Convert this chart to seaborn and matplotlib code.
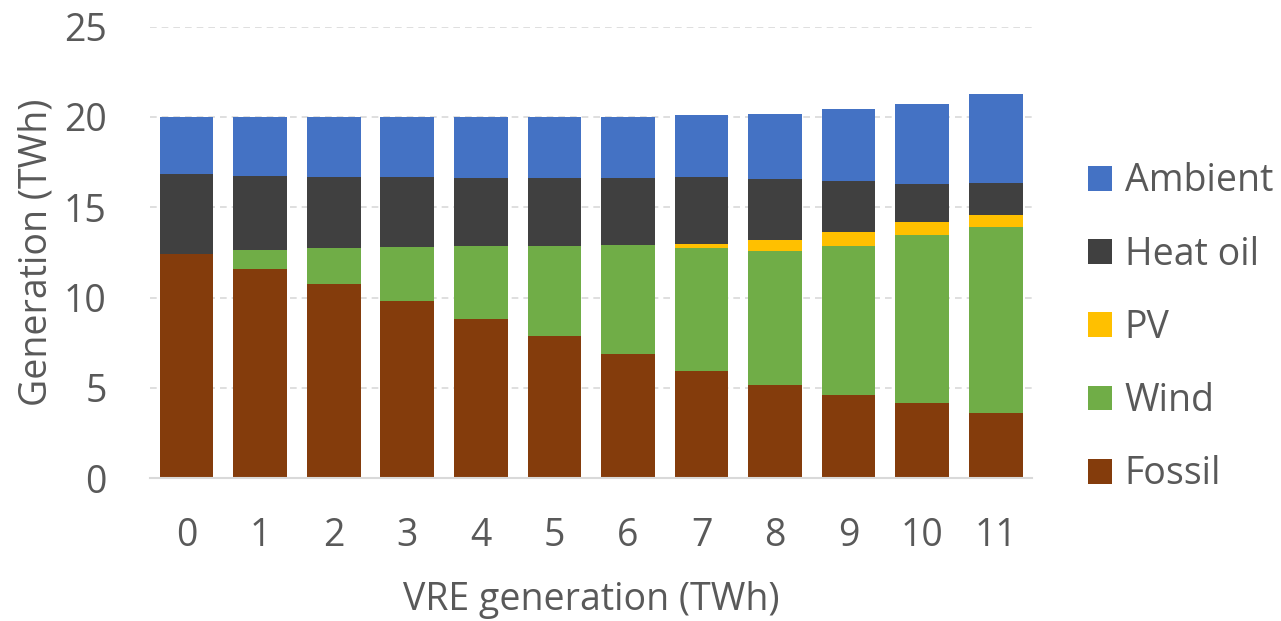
import matplotlib
matplotlib.use("Agg")
import matplotlib.pyplot as plt
from matplotlib.patches import Patch
import numpy as np
import pandas as pd
import seaborn as sns

# VRE generation levels (TWh) on the x axis
vre = ["0", "1", "2", "3", "4", "5", "6", "7", "8", "9", "10", "11"]

# Generation by source (TWh), stacked bottom to top
fossil = [12.44, 11.61, 10.75, 9.81, 8.83, 7.87, 6.89, 5.95, 5.18, 4.63, 4.18, 3.59]
wind = [0.00, 1.02, 2.01, 3.00, 4.02, 5.01, 6.01, 6.77, 7.41, 8.24, 9.29, 10.31]
pv = [0.00, 0.00, 0.00, 0.00, 0.00, 0.00, 0.00, 0.24, 0.59, 0.75, 0.71, 0.70]
heat_oil = [4.43, 4.11, 3.92, 3.85, 3.78, 3.76, 3.74, 3.72, 3.39, 2.82, 2.13, 1.77]
ambient = [3.13, 3.26, 3.32, 3.34, 3.37, 3.36, 3.36, 3.41, 3.61, 3.98, 4.43, 4.89]

series = ["Fossil", "Wind", "PV", "Heat oil", "Ambient"]
values = [fossil, wind, pv, heat_oil, ambient]
colors = {"Fossil": "#843C0C", "Wind": "#70AD47", "PV": "#FFC000",
          "Heat oil": "#404040", "Ambient": "#4472C4"}

sns.set_theme(style="white")
plt.rcParams["font.family"] = ["Open Sans", "DejaVu Sans"]
text_color = "#595959"
fs = 27

fig = plt.figure(figsize=(12.81, 6.21), dpi=100)
ax = fig.add_axes([0.117, 0.230, 0.689, 0.727])

# cumulative tops, drawn from the tallest layer down so each layer shows its segment
cum = np.cumsum(np.array(values), axis=0)
for name, tops in reversed(list(zip(series, cum))):
    df = pd.DataFrame({"VRE": vre, "Generation": tops})
    sns.barplot(data=df, x="VRE", y="Generation", color=colors[name],
                width=0.73, saturation=1, errorbar=None, ax=ax,
                edgecolor="none", linewidth=0, zorder=2)

ax.set_ylim(0, 25)
ax.set_yticks([0, 5, 10, 15, 20, 25])
ax.set_xlim(-0.5, len(vre) - 0.5)
ax.yaxis.grid(True, color="#d9d9d9", linestyle=(0, (4, 3)), linewidth=1.2, zorder=0)
ax.set_axisbelow(True)
for s in ["top", "right", "left"]:
    ax.spines[s].set_visible(False)
ax.spines["bottom"].set_color("#d9d9d9")
ax.spines["bottom"].set_linewidth(1.5)
ax.tick_params(axis="both", length=0, labelsize=fs, colors=text_color)
ax.tick_params(axis="x", pad=28)
ax.tick_params(axis="y", pad=31)
ax.set_xlabel("VRE generation (TWh)", fontsize=fs, color=text_color, labelpad=19)
ax.set_ylabel("Generation (TWh)", fontsize=fs, color=text_color, labelpad=6)

handles = [Patch(facecolor=colors[n], edgecolor="none") for n in reversed(series)]
fig.legend(handles, list(reversed(series)), loc="center left",
           bbox_to_anchor=(0.849, 0.472), frameon=False, fontsize=fs,
           borderaxespad=0, borderpad=0,
           handlelength=0.64, handleheight=0.64, handletextpad=0.35,
           labelspacing=0.94, labelcolor=text_color)

fig.savefig("out.png", dpi=100)
